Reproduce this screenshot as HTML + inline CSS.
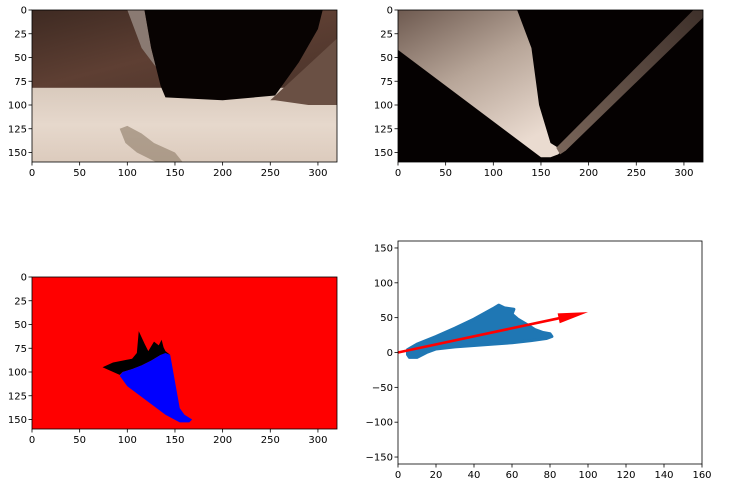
<!DOCTYPE html>
<html><head><meta charset="utf-8">
<style>
html,body{margin:0;padding:0;background:#fff;}
svg{display:block;font-family:"DejaVu Sans","Liberation Sans",sans-serif;}
text{font-size:10px;fill:#000;}
</style></head>
<body>
<svg id="fig" width="730" height="483" viewBox="0 0 730 483">
<defs>
<linearGradient id="floor" x1="0" y1="0" x2="0" y2="1">
<stop offset="0" stop-color="#d9cabd"/><stop offset="0.5" stop-color="#e6d8cc"/><stop offset="1" stop-color="#dccbbd"/></linearGradient>
<linearGradient id="rock" x1="0" y1="0" x2="1" y2="1">
<stop offset="0" stop-color="#3e2a22"/><stop offset="0.5" stop-color="#5e3f33"/><stop offset="1" stop-color="#4a332a"/></linearGradient>
<linearGradient id="fan" x1="0" y1="0" x2="0.6" y2="1">
<stop offset="0" stop-color="#6e5a50"/><stop offset="0.5" stop-color="#b7a598"/><stop offset="1" stop-color="#eadbd0"/></linearGradient>
<linearGradient id="strip" x1="0" y1="1" x2="1" y2="0">
<stop offset="0" stop-color="#7a665a"/><stop offset="1" stop-color="#3e302a"/></linearGradient>
</defs>
<g id="ax1"></g>
<g id="ax2"></g>
<g id="ax3"></g>
<g id="ax4"></g>
</svg>
<script>
// ----- data -----
const imgXTicks = [0,50,100,150,200,250,300];
const imgYTicks = [0,25,50,75,100,125,150];
const scatXTicks = [0,20,40,60,80,100,120,140,160];
const scatYTicks = [150,100,50,0,-50,-100,-150];
// navigable-terrain point cloud outline (rover coords)
const blobX = [5,10,20,30,40,50,53,56,61,60,63,68,72,76,80,81,78,70,60,50,40,30,20,15,10,6,5];
const blobY = [4,12,23,35,48,63,68,64,62,55,48,40,33,29,27,23,20,17,14,12,10,8,5,0,-7,-7,-3];
const arrowStart = [0,0];
const arrowEnd = [100,58];
// threshold image regions (image coords)
const navX = [95,105,115,125,135,140,145,150,155,160,168,165,155,140,120,100,92];
const navY = [100,97,93,88,82,80,82,110,138,145,150,153,153,145,130,115,104];
const obsX = [74,85,95,105,110,112,118,122,128,133,136,138,140,145,135,125,115,105,95,92];
const obsY = [95,90,88,86,80,57,70,78,68,72,66,74,78,82,82,88,93,97,100,103];

const NS='http://www.w3.org/2000/svg';
function mk(parent,tag,attrs){const e=document.createElementNS(NS,tag);for(const k in attrs)e.setAttribute(k,attrs[k]);parent.appendChild(e);return e;}
function linear(d0,d1,r0,r1){return v=>r0+(v-d0)*(r1-r0)/(d1-d0);}

function axesFrame(g,X,Y,x0,x1,y0,y1,xt,yt){
  const fr=mk(g,'rect',{x:x0,y:y0,width:x1-x0,height:y1-y0,fill:'none',stroke:'#000','stroke-width':0.8});
  
  
  xt.forEach(v=>{const px=X(v);
    mk(g,'line',{x1:px,x2:px,y1:y1,y2:y1+3.5,stroke:'#000','stroke-width':0.8});
    const t=mk(g,'text',{x:px,y:y1+14,'text-anchor':'middle'});t.textContent=v;
    
    });
  yt.forEach(v=>{const py=Y(v);
    mk(g,'line',{x1:x0-3.5,x2:x0,y1:py,y2:py,stroke:'#000','stroke-width':0.8});
    const t=mk(g,'text',{x:x0-5,y:py+3.5,'text-anchor':'end'});t.textContent=(v<0?'\u2212'+(-v):v);
    
    });
}
function poly(g,X,Y,xs,ys,fill){return mk(g,'polygon',{points:xs.map((x,i)=>X(x)+','+Y(ys[i])).join(' '),fill:fill});}

// ax1: camera image
(function(){const g=document.getElementById('ax1');
 const X=linear(0,320,32,337),Y=linear(0,160,10,162);
 mk(g,'rect',{x:X(0),y:Y(0),width:X(320)-X(0),height:Y(82)-Y(0),fill:'url(#rock)'});
 mk(g,'rect',{x:X(0),y:Y(82),width:X(320)-X(0),height:Y(160)-Y(82),fill:'url(#floor)'});
 poly(g,X,Y,[100,118,125,130,115],[0,0,40,60,40],'#8a7a72');
 poly(g,X,Y,[250,320,320,290,255],[95,30,100,100,95],'#6a5044');
 poly(g,X,Y,[118,305,300,280,255,200,140,135,125],[0,0,20,55,90,95,92,80,40],'#080302');
 poly(g,X,Y,[92,100,115,128,150,158,130,110,98],[125,122,130,140,150,160,160,150,140],'#8c7a66').setAttribute('opacity','0.6');
})();
// ax2: warped image
(function(){const g=document.getElementById('ax2');
 const X=linear(0,320,398,703),Y=linear(0,160,10,162);
 mk(g,'rect',{x:X(0),y:Y(0),width:X(320)-X(0),height:Y(160)-Y(0),fill:'#050101'});
 poly(g,X,Y,[0,125,140,148,160,168,172,168,160,150,0],[0,0,40,100,140,145,148,152,155,155,42],'url(#fan)');
 poly(g,X,Y,[166,310,320,320,176,170],[145,0,0,8,148,152],'url(#strip)');
 axesFrame(g,X,Y,X(0),X(320),Y(0),Y(160),imgXTicks,imgYTicks);
})();
(function(){const g=document.getElementById('ax1');
 const X=linear(0,320,32,337),Y=linear(0,160,10,162);
 axesFrame(g,X,Y,X(0),X(320),Y(0),Y(160),imgXTicks,imgYTicks);})();
// ax3: threshold image
(function(){const g=document.getElementById('ax3');
 const X=linear(0,320,32,337),Y=linear(0,160,277,429);
 mk(g,'rect',{x:X(0),y:Y(0),width:X(320)-X(0),height:Y(160)-Y(0),fill:'#ff0000'});
 const o=poly(g,X,Y,obsX,obsY,'#000');
 const n=poly(g,X,Y,navX,navY,'#0000ff');
 axesFrame(g,X,Y,X(0),X(320),Y(0),Y(160),imgXTicks,imgYTicks);
})();
// ax4: rover-centric scatter
(function(){const g=document.getElementById('ax4');
 const X=linear(0,160,398,702),Y=linear(-160,160,464,241);
 const b=poly(g,X,Y,blobX,blobY,'#1f77b4');b.setAttribute('stroke','#1f77b4');b.setAttribute('stroke-width','3');b.setAttribute('stroke-linejoin','round');
 
 
 const x0=X(arrowStart[0]),y0=Y(arrowStart[1]),x1=X(arrowEnd[0]),y1=Y(arrowEnd[1]);
 const L=Math.hypot(x1-x0,y1-y0),ux=(x1-x0)/L,uy=(y1-y0)/L,hl=30,hw=5;
 const bx=x1-ux*hl,by=y1-uy*hl;
 const a=mk(g,'polygon',{points:[
   [x0-uy*1.3,y0+ux*1.3],[bx-uy*1.3,by+ux*1.3],[bx-uy*hw,by+ux*hw],[x1,y1],[bx+uy*hw,by-ux*hw],[bx+uy*1.3,by-ux*1.3],[x0+uy*1.3,y0-ux*1.3]
 ].map(p=>p.join(',')).join(' '),fill:'#ff0000'});
 
 
 axesFrame(g,X,Y,X(0),X(160),Y(160),Y(-160),scatXTicks,scatYTicks);
})();
</script>
</body></html>
